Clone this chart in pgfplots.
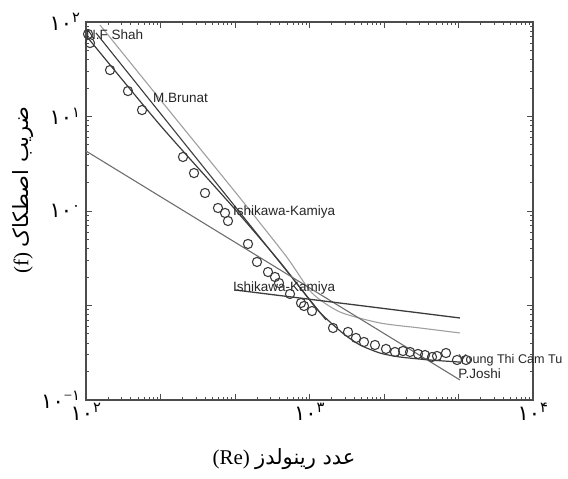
\documentclass[border=0pt]{standalone}
\usepackage{fontspec}
\usepackage{pgfplots}
\pgfplotsset{compat=1.18}
\usetikzlibrary{calc}
\setmainfont{Liberation Serif}
\newfontfamily\fa[Script=Arabic]{DejaVu Sans}
\newfontfamily\lab{Liberation Sans}
\TeXXeTstate=1
\newcommand{\pw}[1]{{\fa ۱۰}\textsuperscript{#1}}
\definecolor{dk}{HTML}{3C3C3C}
\definecolor{md}{HTML}{6E6E6E}
\definecolor{lt}{HTML}{A0A0A0}
\begin{document}
\begin{tikzpicture}
% frame with the tick pattern of the original plot
\begin{axis}[name=frame, scale only axis, width=447pt, height=378pt,
  xmode=log, ymode=log, xmin=1, xmax=1e6, ymin=1e-2, ymax=1e2,
  xtick={1,10,100,1000,10000,100000,1000000},
  ytick={0.01,0.1,1,10,100},
  minor xtick={2,3,4,5,6,7,8,9,20,30,40,50,60,70,80,90,200,300,400,500,600,700,800,900,
    2e3,3e3,4e3,5e3,6e3,7e3,8e3,9e3,2e4,3e4,4e4,5e4,6e4,7e4,8e4,9e4,2e5,3e5,4e5,5e5,6e5,7e5,8e5,9e5},
  minor ytick={0.02,0.03,0.04,0.05,0.06,0.07,0.08,0.09,0.2,0.3,0.4,0.5,0.6,0.7,0.8,0.9,
    2,3,4,5,6,7,8,9,20,30,40,50,60,70,80,90},
  xticklabels={}, yticklabels={},
  tick align=inside, major tick length=6pt, minor tick length=3.5pt,
  axis line style={draw=black!70, line width=1.4pt},
  tick style={black!70, line width=0.9pt},
  xtick pos=both, ytick pos=both]
\end{axis}
% data axis
\begin{axis}[scale only axis, width=447pt, height=378pt,
  xmode=log, ymode=log, xmin=100, xmax=1e4, ymin=1e-2, ymax=1e2, clip=false,
  axis line style={draw=none}, tick style={draw=none},
  xtick={100,1000,10000},
  ytick={0.01,1,10,100}, yticklabels={\pw{−{\fa ۱}},\pw{{\fa ۰}},\pw{{\fa ۱}},\pw{{\fa ۲}}},
  xticklabels={\pw{{\fa ۲}},\pw{{\fa ۳}},\pw{{\fa ۴}}},
  ticklabel style={font=\fontsize{21}{23}\selectfont},
  yticklabel style={xshift=-2pt},
  xlabel={\beginR{\fa عدد رینولدز} \beginL(Re)\endL\endR},
  ylabel={\beginR{\fa ضریب اصطکاک} \beginL(f)\endL\endR},
  label style={font=\fontsize{21}{23}\selectfont},
  xlabel style={at={(axis description cs:0.443,-0.157)}, anchor=center},
  ylabel style={at={(axis description cs:-0.141,0.555)}, anchor=center}]
% N.F Shah / Young Thi Cam Tu
\addplot[dk, line width=1.2pt, smooth, tension=0.4] coordinates {(102.1,67.7) (214.3,8.13) (454.7,1.102) (738,0.288) (1069,0.0941) (1235,0.0669) (1441,0.0488) (1683,0.0382) (2066,0.0314) (2541,0.0285) (3459,0.0265) (4710,0.0252)};
% second steep line
\addplot[dk, line width=1.1pt] coordinates {(110.9,76.5) (1185,0.0703)};
% M.Brunat
\addplot[lt, line width=1.1pt, smooth, tension=0.4] coordinates {(115.5,92.9) (221.0,13.9) (469.0,1.55) (784.8,0.334) (1026,0.1356) (1369,0.0853) (2066,0.0653) (3122,0.0578) (4710,0.0512)};
% P.Joshi
\addplot[md, line width=1.1pt] coordinates {(100,4.31) (4710,0.0163)};
% Ishikawa-Kamiya (turbulent)
\addplot[dk, line width=1.3pt] coordinates {(464.2,0.146) (4710,0.0738)};
% experimental points
\addplot[only marks, mark=o, mark size=4.6pt, mark options={line width=1.1pt, draw=dk}] coordinates {
(102.1,74.6) (104.2,59.9) (128.1,31.0) (154.1,18.6) (178.1,11.7) (271.6,3.73)
(304.3,2.52) (340.8,1.55) (389.5,1.076) (418.8,0.953) (431.8,0.784) (530.6,0.448)
(582.1,0.289) (652.2,0.226) (700.9,0.2003) (730.4,0.173) (818.0,0.1324) (916.2,0.1063)
(944.9,0.0988) (1026,0.0874) (1274,0.0578) (1487,0.0525) (1614,0.0453) (1753,0.0411)
(1963,0.0382) (2199,0.0347) (2413,0.0322) (2620,0.0330) (2816,0.0322) (3058,0.0307)
(3287,0.0299) (3533,0.0285) (3720,0.0292) (4081,0.0314) (4571,0.0265) (5013,0.0265)};
\begin{scope}[every node/.style={anchor=west, inner sep=0pt, font=\lab\fontsize{13.5}{15}\selectfont, text=black!85}]
\node at (axis cs:100,72.8) {N.F Shah};
\node at (axis cs:199.4,15.70) {M.Brunat};
\node at (axis cs:454.7,0.976) {Ishikawa-Kamiya};
\node at (axis cs:454.7,0.1532) {Ishikawa-Kamiya};
\node[font=\lab\fontsize{12.6}{14}\selectfont] at (axis cs:4620,0.0265) {Young Thi Cam Tu};
\node at (axis cs:4620,0.0190) {P.Joshi};
\end{scope}
\end{axis}
\pgfresetboundingbox
\path (frame.south west) ++(-86pt,-79pt) rectangle ($(frame.north east)+(35pt,22pt)$);
\end{tikzpicture}
\end{document}
